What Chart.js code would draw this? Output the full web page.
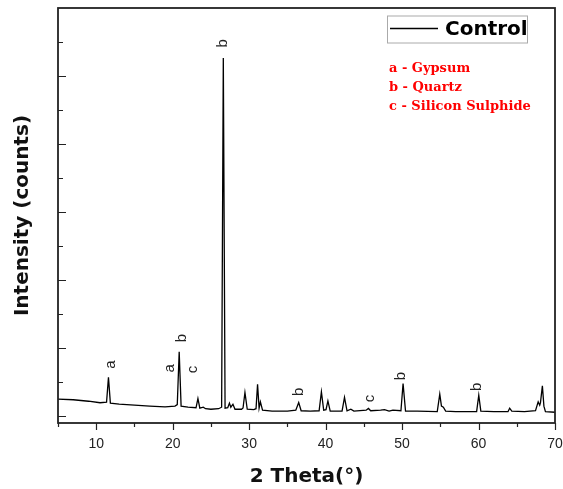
<!DOCTYPE html>
<html>
<head>
<meta charset="utf-8">
<script src="https://cdn.jsdelivr.net/npm/chart.js@4"></script>
<style>
  html, body { margin: 0; padding: 0; background: #fff; }
</style>
</head>
<body>
<canvas id="xrd" width="563" height="489"></canvas>
<script>
// diffraction pattern (2 theta in degrees, counts in arbitrary units)
const twoTheta = [5, 7, 9, 10.5, 11.35, 11.6, 11.85, 13, 15, 17, 19, 20.3, 20.6, 20.85, 21.1,
    22, 23.05, 23.3, 23.55, 24, 24.3, 25, 26, 26.4, 26.62, 26.85, 27.2, 27.42, 27.6, 27.88,
    28.15, 29, 29.2, 29.45, 29.75, 30.6, 30.9, 31.1, 31.3, 31.47, 31.75, 33, 35, 36.1, 36.48,
    36.8, 38, 39.15, 39.45, 39.75, 40.05, 40.3, 40.6, 42.15, 42.47, 42.8, 43.3, 43.7, 45.3,
    45.6, 45.9, 47.2, 47.7, 48.3, 48.8, 49.85, 50.13, 50.45, 52, 54.6, 54.93, 55.15, 55.4,
    55.7, 57, 59.75, 60.03, 60.3, 62, 63.85, 64.07, 64.35, 66, 67.45, 67.8, 68.0, 68.1, 68.35,
    68.55, 68.75, 70];
const counts = [625, 621, 610, 599, 603, 785, 596, 588, 581, 574, 568, 574, 585, 973, 574,
    566, 562, 630, 559, 566, 555, 551, 555, 566, 3132, 559, 562, 596, 566, 588,
    551, 551, 560, 674, 551, 548, 555, 735, 559, 605, 544, 537, 537, 544, 601,
    540, 537, 540, 679, 544, 548, 612, 537, 537, 638, 540, 551, 537, 544,
    557, 540, 544, 548, 537, 544, 540, 740, 537, 537, 533, 662, 574, 566,
    537, 533, 533, 654, 537, 533, 533, 559, 537, 533, 540, 605, 581, 600, 723,
    574, 533, 529];

// phase letters above the peaks
const peakLabelTheta = [11.87, 19.59, 21.26, 22.64, 26.57, 36.48, 45.77, 49.79, 59.74];
const peakLabelCounts = [880, 851, 1074, 843, 3240, 679, 630, 794, 715];
const peakLabelText = ['a', 'a', 'b', 'c', 'b', 'b', 'c', 'b', 'b'];

const phaseKeys = ['a - Gypsum', 'b - Quartz', 'c - Silicon Sulphide'];

const xMajorTicks = [10, 20, 30, 40, 50, 60, 70];
const xMinorTicks = [5, 15, 25, 35, 45, 55, 65];
const yMajorTicks = [500, 1000, 1500, 2000, 2500, 3000];
const yMinorTicks = [750, 1250, 1750, 2250, 2750, 3250];

const frameAndTicks = {
    id: 'frameAndTicks',
    afterDatasetsDraw(chart) {
        const { ctx, chartArea: a, scales: { x, y } } = chart;
        ctx.save();
        ctx.strokeStyle = '#222';
        ctx.lineWidth = 1.2;
        ctx.beginPath();
        xMajorTicks.forEach((v) => {
            const px = Math.round(x.getPixelForValue(v)) + 0.5;
            ctx.moveTo(px, a.bottom);
            ctx.lineTo(px, a.bottom + 7);
        });
        xMinorTicks.forEach((v) => {
            const px = Math.round(x.getPixelForValue(v)) + 0.5;
            ctx.moveTo(px, a.bottom);
            ctx.lineTo(px, a.bottom + 4);
        });
        yMajorTicks.forEach((v) => {
            const py = Math.round(y.getPixelForValue(v)) + 0.5;
            ctx.moveTo(a.left, py);
            ctx.lineTo(a.left + 8, py);
        });
        yMinorTicks.forEach((v) => {
            const py = Math.round(y.getPixelForValue(v)) + 0.5;
            ctx.moveTo(a.left, py);
            ctx.lineTo(a.left + 5, py);
        });
        ctx.stroke();

        ctx.lineWidth = 1.8;
        ctx.strokeRect(a.left, a.top, a.right - a.left, a.bottom - a.top);
        ctx.restore();
    }
};

const annotations = {
    id: 'annotations',
    afterDraw(chart) {
        const { ctx, chartArea: a, scales: { x, y } } = chart;
        ctx.save();

        // rotated phase letters
        ctx.fillStyle = '#222';
        ctx.font = '15px "Liberation Sans", Arial, sans-serif';
        ctx.textAlign = 'center';
        ctx.textBaseline = 'middle';
        peakLabelText.forEach((t, i) => {
            ctx.save();
            ctx.translate(x.getPixelForValue(peakLabelTheta[i]), y.getPixelForValue(peakLabelCounts[i]));
            ctx.rotate(-Math.PI / 2);
            ctx.fillText(t, 0, 0);
            ctx.restore();
        });

        // legend box
        const bx = a.right - 168, by = a.top + 7.5;
        ctx.strokeStyle = '#aaa';
        ctx.lineWidth = 1;
        ctx.strokeRect(bx + 0.5, by + 0.5, 140, 27);
        ctx.strokeStyle = '#000';
        ctx.lineWidth = 1.5;
        ctx.beginPath();
        ctx.moveTo(bx + 3, by + 13);
        ctx.lineTo(bx + 51, by + 13);
        ctx.stroke();
        ctx.fillStyle = '#000';
        ctx.textAlign = 'left';
        ctx.font = 'bold 20px "DejaVu Sans", Verdana, sans-serif';
        ctx.fillText('Control', bx + 58, by + 14.5);

        // phase key
        ctx.fillStyle = '#ff0000';
        ctx.font = 'bold 13px "DejaVu Serif", serif';
        phaseKeys.forEach((t, i) => {
            ctx.fillText(t, bx + 2, by + 53 + i * 19);
        });
        ctx.restore();
    }
};

const ctx = document.getElementById('xrd');
new Chart(ctx, {
    type: 'line',
    data: {
        datasets: [{
            label: 'Control',
            data: twoTheta.map((t, i) => ({ x: t, y: counts[i] })),
            borderColor: '#000',
            borderWidth: 1.3,
            pointRadius: 0,
            tension: 0,
            fill: false
        }]
    },
    options: {
        responsive: false,
        animation: false,
        layout: { padding: { top: 8, right: 8, left: 0, bottom: 0 } },
        plugins: {
            legend: { display: false },
            tooltip: { enabled: false }
        },
        scales: {
            x: {
                type: 'linear',
                min: 5,
                max: 70,
                afterBuildTicks: (scale) => {
                    scale.ticks = xMajorTicks.map((v) => ({ value: v }));
                },
                afterFit: (scale) => {
                    scale.height = 66;
                    scale.paddingLeft = 0;
                    scale.paddingRight = 0;
                },
                grid: { display: false, drawTicks: false },
                border: { display: false },
                ticks: {
                    padding: 13,
                    maxRotation: 0,
                    color: '#222',
                    font: { family: '"Liberation Sans", Arial, sans-serif', size: 14 }
                },
                title: {
                    display: true,
                    text: '2 Theta(°)',
                    color: '#111',
                    font: { family: '"DejaVu Sans", Verdana, sans-serif', weight: 'bold', size: 20 },
                    padding: { top: 0, bottom: 0 }
                }
            },
            y: {
                min: 450,
                max: 3500,
                afterBuildTicks: (scale) => {
                    scale.ticks = yMajorTicks.map((v) => ({ value: v }));
                },
                afterFit: (scale) => {
                    scale.width = 58;
                    scale.paddingTop = 0;
                    scale.paddingBottom = 0;
                },
                grid: { display: false, drawTicks: false },
                border: { display: false },
                ticks: { display: false },
                title: {
                    display: true,
                    text: 'Intensity (counts)',
                    color: '#111',
                    font: { family: '"DejaVu Sans", Verdana, sans-serif', weight: 'bold', size: 20 },
                    padding: { top: 11, bottom: 0 }
                }
            }
        }
    },
    plugins: [frameAndTicks, annotations]
});
</script>
</body>
</html>
